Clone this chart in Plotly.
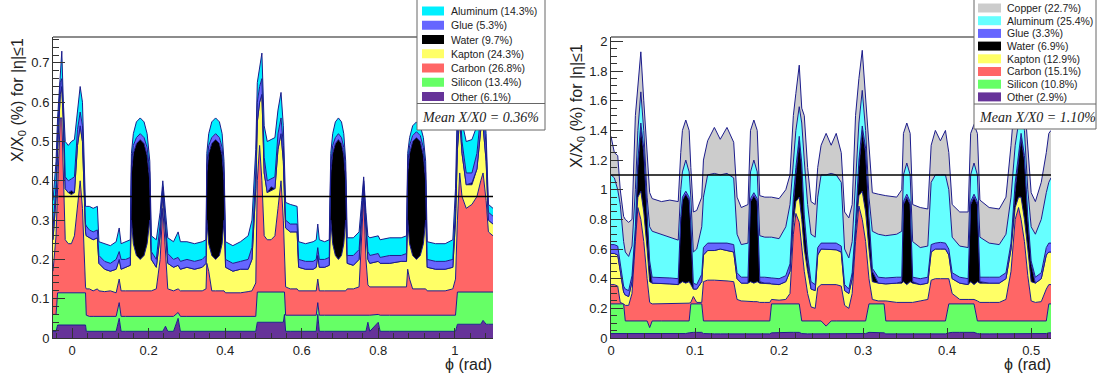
import plotly.graph_objects as go

# ---------------- LEFT PANEL DATA (stacked boundaries, X/X0 in %) ----------------
L_phi = [-0.050,-0.042,-0.038,-0.031,-0.027,-0.023,-0.018,-0.010,-0.002,0.006,
         0.014,0.021,0.027,0.032,0.035,0.037,0.045,0.055,0.066,0.070,
         0.085,0.100,0.115,0.123,0.128,0.140,0.152,0.155,0.160,0.168,
         0.178,0.188,0.196,0.203,0.207,0.220,0.230,0.237,0.244,0.250,
         0.265,0.277,0.283,0.300,0.320,0.340,0.350,0.352,0.357,0.365,
         0.375,0.385,0.392,0.397,0.401,0.420,0.440,0.460,0.470,0.480,
         0.484,0.490,0.496,0.502,0.510,0.520,0.530,0.538,0.546,0.552,
         0.555,0.558,0.570,0.588,0.592,0.610,0.630,0.638,0.642,0.646,
         0.660,0.672,0.676,0.681,0.688,0.696,0.704,0.710,0.715,0.719,
         0.735,0.750,0.757,0.762,0.768,0.773,0.778,0.800,0.805,0.830,
         0.860,0.874,0.877,0.882,0.890,0.900,0.910,0.918,0.924,0.928,
         0.950,0.975,0.995,1.002,1.007,1.013,1.019,1.030,1.045,1.058,
         1.068,1.074,1.082,1.088,1.100]
L_other = [.017,.017,.033,.033,.033,.033,.033,.033,.033,.033,
           .033,.033,.033,.033,.033,.017,.017,.017,.017,.017,
           .017,.017,.017,.050,.017,.017,.017,.017,.017,.017,
           .017,.017,.017,.017,.017,.017,.017,.017,.030,.017,
           .017,.050,.017,.017,.017,.017,.017,.017,.017,.017,
           .017,.017,.017,.017,.017,.017,.017,.017,.017,.017,
           .040,.040,.040,.040,.040,.040,.040,.040,.040,.040,
           .060,.017,.017,.017,.017,.017,.017,.017,.060,.017,
           .017,.017,.017,.017,.017,.017,.017,.017,.017,.017,
           .017,.017,.017,.017,.017,.040,.017,.040,.017,.017,
           .017,.017,.017,.017,.017,.017,.017,.017,.017,.017,
           .017,.017,.017,.017,.035,.035,.035,.035,.035,.035,
           .035,.045,.035,.035,.035]
L_silicon = [.060,.060,.115,.115,.115,.115,.115,.115,.115,.115,
             .115,.115,.115,.115,.115,.058,.055,.055,.055,.055,
             .055,.055,.055,.090,.055,.055,.055,.055,.055,.055,
             .055,.055,.055,.055,.055,.055,.055,.055,.055,.055,
             .055,.065,.055,.055,.055,.055,.055,.055,.055,.055,
             .055,.055,.055,.055,.055,.055,.055,.055,.055,.055,
             .117,.117,.117,.117,.117,.117,.117,.117,.117,.117,
             .117,.058,.058,.058,.058,.058,.058,.058,.090,.058,
             .058,.058,.058,.058,.058,.058,.058,.058,.058,.058,
             .058,.058,.058,.058,.058,.058,.058,.060,.058,.058,
             .058,.058,.058,.058,.058,.058,.058,.058,.058,.058,
             .058,.058,.058,.058,.117,.117,.117,.117,.117,.117,
             .117,.117,.117,.117,.117]
L_carbon = [.170,.260,.380,.560,.560,.420,.250,.240,.240,.260,
            .340,.400,.330,.200,.130,.125,.125,.120,.125,.120,
            .118,.120,.115,.150,.120,.120,.120,.120,.120,.120,
            .120,.120,.120,.120,.120,.125,.200,.330,.200,.125,
            .120,.125,.120,.120,.120,.120,.125,.190,.170,.120,
            .120,.120,.120,.120,.115,.115,.115,.118,.120,.140,
            .400,.490,.400,.260,.250,.250,.260,.330,.400,.300,
            .200,.130,.125,.125,.120,.120,.120,.120,.150,.120,
            .120,.120,.120,.120,.120,.120,.120,.120,.120,.125,
            .125,.130,.250,.360,.200,.135,.130,.130,.130,.130,
            .130,.130,.175,.150,.125,.125,.125,.125,.125,.120,
            .120,.120,.125,.150,.300,.420,.360,.330,.340,.360,
            .400,.420,.350,.270,.260]
L_kapton = [.250,.360,.480,.620,.640,.550,.380,.370,.365,.370,
            .490,.540,.500,.350,.270,.260,.255,.250,.255,.190,
            .175,.170,.175,.200,.175,.180,.185,.300,.240,.210,
            .200,.210,.240,.300,.200,.180,.260,.370,.280,.190,
            .180,.185,.175,.180,.175,.180,.190,.300,.240,.210,
            .200,.210,.240,.300,.180,.170,.175,.175,.200,.380,
            .550,.600,.620,.420,.370,.375,.380,.480,.520,.450,
            .350,.280,.270,.270,.180,.175,.175,.180,.210,.180,
            .180,.185,.300,.240,.210,.200,.210,.240,.300,.190,
            .185,.200,.310,.385,.280,.200,.190,.195,.190,.190,
            .195,.195,.300,.240,.210,.200,.210,.240,.300,.180,
            .175,.175,.180,.300,.480,.560,.470,.390,.390,.430,
            .530,.540,.450,.300,.290]
L_water = [.250,.360,.480,.620,.640,.550,.380,.370,.375,.370,
           .490,.540,.500,.350,.270,.260,.255,.250,.255,.190,
           .175,.170,.175,.200,.175,.180,.185,.420,.470,.495,
           .505,.495,.465,.400,.200,.180,.260,.370,.280,.190,
           .180,.185,.175,.180,.175,.180,.190,.420,.470,.495,
           .505,.495,.465,.400,.180,.170,.175,.175,.200,.380,
           .550,.600,.620,.420,.370,.385,.380,.480,.520,.450,
           .350,.280,.270,.270,.180,.175,.175,.180,.210,.180,
           .180,.185,.420,.470,.495,.505,.495,.465,.400,.190,
           .185,.200,.310,.385,.280,.200,.190,.195,.190,.190,
           .195,.195,.420,.470,.500,.510,.500,.465,.400,.180,
           .175,.175,.180,.300,.480,.560,.470,.390,.395,.430,
           .530,.540,.450,.300,.290]
L_glue = [.280,.390,.520,.650,.660,.580,.410,.400,.405,.410,
          .530,.575,.540,.380,.290,.285,.275,.270,.275,.210,
          .195,.190,.200,.220,.200,.200,.205,.440,.490,.510,
          .520,.510,.485,.420,.220,.200,.290,.385,.300,.215,
          .200,.205,.195,.200,.195,.200,.210,.440,.490,.510,
          .520,.510,.485,.420,.200,.190,.195,.200,.230,.420,
          .600,.640,.660,.460,.400,.405,.410,.520,.560,.490,
          .380,.300,.290,.290,.200,.195,.195,.200,.230,.200,
          .200,.205,.440,.490,.510,.520,.510,.485,.420,.210,
          .210,.225,.330,.400,.300,.220,.210,.215,.205,.210,
          .210,.215,.440,.490,.515,.525,.515,.485,.420,.200,
          .195,.195,.200,.330,.530,.600,.500,.420,.420,.470,
          .570,.580,.490,.320,.310]
L_alu = [.350,.450,.560,.690,.730,.600,.500,.490,.500,.505,
         .580,.640,.600,.420,.335,.335,.335,.330,.335,.245,
         .240,.235,.245,.280,.240,.245,.250,.470,.520,.550,
         .560,.550,.520,.450,.260,.250,.320,.400,.330,.255,
         .245,.270,.245,.245,.240,.245,.250,.470,.520,.550,
         .560,.550,.520,.450,.245,.235,.245,.260,.300,.480,
         .650,.690,.725,.540,.500,.505,.510,.580,.625,.540,
         .420,.345,.340,.335,.245,.240,.245,.250,.290,.250,
         .245,.250,.470,.520,.550,.560,.550,.520,.450,.255,
         .255,.270,.350,.410,.320,.260,.255,.260,.250,.255,
         .255,.260,.470,.510,.540,.550,.540,.510,.450,.245,
         .240,.240,.250,.380,.600,.660,.550,.500,.505,.540,
         .610,.620,.520,.340,.330]
L_mean = 0.36
L_names = ["Aluminum", "Glue", "Water", "Kapton", "Carbon", "Silicon", "Other"]
L_pct = [14.3, 5.3, 9.7, 24.3, 26.8, 13.4, 6.1]

# ---------------- RIGHT PANEL DATA ----------------
R_phi = [0.000,0.004,0.008,0.011,0.015,0.017,0.021,0.025,0.029,0.032,
         0.0355,0.039,0.043,0.046,0.049,0.060,0.070,0.080,0.083,0.085,
         0.089,0.093,0.095,0.098,0.102,0.108,0.110,0.115,0.123,0.130,
         0.138,0.146,0.150,0.155,0.163,0.166,0.170,0.174,0.177,0.183,
         0.189,0.191,0.200,0.208,0.213,0.217,0.220,0.224,0.227,0.230,
         0.234,0.238,0.243,0.246,0.250,0.256,0.262,0.268,0.274,0.278,
         0.283,0.287,0.291,0.295,0.299,0.303,0.307,0.311,0.318,0.325,
         0.327,0.340,0.346,0.348,0.352,0.356,0.359,0.368,0.377,0.381,
         0.386,0.392,0.398,0.402,0.406,0.415,0.425,0.428,0.432,0.436,
         0.439,0.450,0.462,0.470,0.476,0.481,0.485,0.488,0.492,0.496,
         0.500,0.505,0.512,0.518,0.521,0.5236]
R_other = [.030,.030,.030,.030,.030,.028,.028,.028,.028,.028,
           .028,.028,.028,.028,.028,.028,.028,.028,.030,.030,
           .030,.035,.038,.038,.038,.038,.030,.028,.028,.028,
           .028,.028,.028,.028,.028,.028,.028,.028,.028,.028,
           .028,.035,.038,.038,.038,.038,.038,.038,.030,.028,
           .028,.028,.028,.028,.028,.028,.028,.028,.028,.028,
           .028,.028,.028,.028,.028,.030,.038,.038,.038,.035,
           .028,.028,.028,.028,.028,.028,.028,.028,.028,.028,
           .028,.028,.028,.035,.038,.038,.038,.038,.038,.030,
           .028,.028,.028,.028,.028,.028,.028,.028,.028,.028,
           .028,.028,.028,.030,.035,.035]
R_silicon = [.230,.230,.230,.230,.230,.115,.115,.115,.115,.115,
             .115,.115,.115,.070,.115,.115,.115,.115,.115,.115,
             .115,.115,.230,.230,.230,.230,.115,.115,.115,.115,
             .115,.115,.115,.115,.115,.115,.115,.115,.115,.115,
             .115,.230,.230,.230,.230,.230,.230,.230,.115,.115,
             .115,.115,.115,.115,.115,.080,.115,.115,.115,.115,
             .115,.115,.115,.115,.115,.115,.230,.230,.230,.230,
             .115,.115,.115,.115,.115,.115,.115,.115,.115,.115,
             .115,.115,.115,.230,.230,.230,.230,.230,.230,.115,
             .115,.115,.115,.115,.115,.115,.115,.115,.115,.115,
             .115,.115,.115,.115,.230,.230]
R_carbon = [.360,.360,.350,.240,.230,.220,.220,.300,.650,.880,
            .800,.650,.400,.240,.230,.230,.235,.235,.235,.235,
            .235,.235,.240,.280,.240,.240,.380,.390,.390,.390,
            .385,.380,.260,.250,.245,.245,.245,.245,.240,.240,
            .240,.260,.255,.260,.300,.700,.840,.780,.600,.450,
            .300,.210,.200,.340,.360,.360,.360,.360,.350,.220,
            .200,.300,.650,.890,.800,.650,.400,.260,.250,.250,
            .250,.240,.240,.240,.240,.240,.240,.250,.260,.390,
            .400,.400,.400,.400,.300,.260,.260,.260,.260,.250,
            .240,.240,.240,.260,.450,.800,.880,.800,.650,.420,
            .250,.240,.245,.330,.360,.360]
R_kapton = [.570,.570,.560,.450,.310,.290,.280,.380,.700,.950,
            .990,.850,.600,.380,.370,.370,.365,.360,.370,.380,
            .370,.380,.360,.330,.330,.380,.560,.590,.590,.600,
            .590,.580,.400,.370,.370,.380,.370,.380,.370,.370,
            .370,.365,.360,.380,.450,.780,.920,.950,.800,.600,
            .450,.330,.320,.560,.600,.600,.600,.595,.580,.320,
            .300,.400,.720,.960,.990,.850,.600,.380,.370,.365,
            .365,.370,.370,.380,.360,.380,.370,.360,.370,.580,
            .600,.600,.600,.560,.400,.370,.360,.380,.360,.380,
            .370,.370,.370,.400,.600,.880,.950,.950,.800,.600,
            .380,.370,.400,.560,.580,.580]
R_water = [.570,.570,.560,.450,.310,.290,.280,.380,.700,1.150,
           1.420,1.250,.800,.500,.370,.370,.365,.360,.800,.930,
           .970,.930,.750,.330,.330,.380,.560,.590,.590,.600,
           .590,.580,.400,.370,.370,.920,.960,.920,.380,.370,
           .370,.365,.360,.380,.450,.900,1.100,1.330,1.150,.800,
           .520,.330,.320,.560,.600,.600,.600,.595,.580,.320,
           .300,.400,.720,1.150,1.400,1.250,.800,.450,.370,.365,
           .365,.370,.380,.900,.950,.900,.380,.360,.370,.580,
           .600,.600,.600,.560,.400,.370,.360,.900,.950,.900,
           .380,.370,.370,.400,.600,1.000,1.200,1.350,1.200,.800,
           .500,.370,.400,.560,.580,.580]
R_glue = [.630,.630,.620,.500,.350,.330,.320,.420,.750,1.200,
          1.450,1.280,.820,.520,.410,.410,.405,.400,.820,.950,
          .990,.950,.770,.370,.360,.430,.610,.640,.640,.640,
          .640,.630,.440,.410,.410,.940,.980,.940,.410,.410,
          .410,.405,.400,.420,.500,.950,1.150,1.360,1.180,.830,
          .560,.380,.360,.610,.640,.640,.645,.640,.620,.360,
          .330,.440,.770,1.200,1.430,1.280,.820,.470,.410,.405,
          .405,.410,.410,.920,.970,.920,.410,.400,.410,.630,
          .640,.645,.640,.600,.440,.410,.400,.920,.970,.920,
          .410,.410,.410,.440,.640,1.050,1.250,1.380,1.230,.820,
          .520,.410,.440,.610,.640,.640]
R_alu = [1.100,1.080,1.000,.900,.650,.580,.550,.620,1.000,1.400,
         1.660,1.400,.950,.750,.720,.700,.680,.660,1.000,1.120,
         1.200,1.120,.950,.580,.600,.750,.950,1.100,1.110,1.100,
         1.110,1.080,.700,.630,.640,1.120,1.200,1.120,.690,.680,
         .680,.680,.670,.750,.900,1.200,1.400,1.560,1.450,1.200,
         .900,.700,.680,.950,1.100,1.100,1.110,1.100,1.050,.600,
         .540,.650,1.050,1.450,1.670,1.400,.950,.720,.700,.690,
         .690,.700,.720,1.100,1.180,1.100,.650,.610,.620,1.050,
         1.100,1.100,1.100,1.000,.680,.620,.610,1.100,1.180,1.100,
         .680,.640,.630,.700,.950,1.300,1.450,1.600,1.400,1.000,
         .750,.700,.800,.980,1.050,1.080]
R_copper = [1.360,1.250,1.230,1.000,.820,.800,.780,.800,1.500,1.700,
            1.930,1.600,1.250,.980,.940,.920,.930,.920,1.250,1.400,
            1.470,1.400,1.150,.850,.860,.950,1.200,1.330,1.420,1.340,
            1.420,1.320,.950,.880,.900,1.400,1.470,1.400,.960,.950,
            .950,.950,.940,1.000,1.100,1.500,1.650,1.840,1.550,1.500,
            1.150,.920,.900,1.150,1.300,1.380,1.300,1.380,1.250,.850,
            .810,.900,1.500,1.750,1.940,1.600,1.250,.980,.970,.960,
            .960,.950,1.000,1.380,1.450,1.380,.900,.880,.870,1.300,
            1.400,1.330,1.400,1.250,.900,.850,.850,1.380,1.440,1.380,
            .930,.880,.870,.950,1.300,1.650,1.800,1.900,1.600,1.300,
            .980,.920,1.050,1.250,1.380,1.400]
R_mean = 1.10
R_names = ["Copper", "Aluminum", "Glue", "Water", "Kapton", "Carbon", "Silicon", "Other"]
R_pct = [22.7, 25.4, 3.3, 6.9, 12.9, 15.1, 10.8, 2.9]

# ---------------- STYLE ----------------
W, H = 1097, 376
OUTLINE = "#1c1c8c"
COLORS = {"Other": "#663399", "Silicon": "#66ff66", "Carbon": "#ff6666",
          "Kapton": "#ffff66", "Water": "#000000", "Glue": "#6666ff",
          "Copper": "#cccccc"}
L_ALU_COLOR = "#00f0ff"
R_ALU_COLOR = "#66ffff"
FONT = "Liberation Sans, Arial, sans-serif"
LEG_FONT = "Liberation Sans, Arial, sans-serif"


def xp(px):
    return px / W


def yp(py):
    return 1 - py / H


fig = go.Figure()

left_stack = [("Other", L_other), ("Silicon", L_silicon), ("Carbon", L_carbon),
              ("Kapton", L_kapton), ("Water", L_water), ("Glue", L_glue),
              ("Aluminum", L_alu)]
right_stack = [("Other", R_other), ("Silicon", R_silicon), ("Carbon", R_carbon),
               ("Kapton", R_kapton), ("Water", R_water), ("Glue", R_glue),
               ("Aluminum", R_alu), ("Copper", R_copper)]

for i, (name, ys) in enumerate(left_stack):
    col = L_ALU_COLOR if name == "Aluminum" else COLORS[name]
    fig.add_trace(go.Scatter(x=L_phi, y=ys, mode="lines", name=name,
                             line=dict(color=OUTLINE, width=1),
                             fill="tozeroy" if i == 0 else "tonexty",
                             fillcolor=col, xaxis="x", yaxis="y",
                             showlegend=False, hoverinfo="skip"))
fig.add_trace(go.Scatter(x=[L_phi[0], L_phi[-1]], y=[L_mean, L_mean], mode="lines",
                         line=dict(color="black", width=1.5), xaxis="x", yaxis="y",
                         showlegend=False, hoverinfo="skip"))

for i, (name, ys) in enumerate(right_stack):
    col = R_ALU_COLOR if name == "Aluminum" else COLORS[name]
    fig.add_trace(go.Scatter(x=R_phi, y=ys, mode="lines", name=name,
                             line=dict(color=OUTLINE, width=1),
                             fill="tozeroy" if i == 0 else "tonexty",
                             fillcolor=col, xaxis="x2", yaxis="y2",
                             showlegend=False, hoverinfo="skip"))
fig.add_trace(go.Scatter(x=[R_phi[0], R_phi[-1]], y=[R_mean, R_mean], mode="lines",
                         line=dict(color="black", width=1.5), xaxis="x2", yaxis="y2",
                         showlegend=False, hoverinfo="skip"))

axis_common = dict(showgrid=False, zeroline=False, showline=True, linecolor="#333333",
                   linewidth=1, ticks="inside", tickcolor="#333333", automargin=False,
                   tickfont=dict(family=FONT, size=13, color="#222222"))

fig.update_layout(
    width=W, height=H, autosize=False, showlegend=False,
    margin=dict(l=0, r=0, t=0, b=0, pad=0),
    paper_bgcolor="white", plot_bgcolor="white",
    font=dict(family=FONT, color="#222222"),
    xaxis=dict(domain=[xp(53), xp(493)], range=[-0.05, 1.1], anchor="y",
               tick0=0, dtick=0.2, ticklen=10,
               minor=dict(dtick=0.04, ticks="inside", ticklen=5, tickcolor="#333333"),
               **axis_common),
    yaxis=dict(domain=[yp(338), yp(37)], range=[0, 0.766], anchor="x",
               tick0=0, dtick=0.1, ticklen=12,
               minor=dict(dtick=0.02, ticks="inside", ticklen=6, tickcolor="#333333"),
               **axis_common),
    xaxis2=dict(domain=[xp(611), xp(1051)], range=[0, 0.5236], anchor="y2",
                tick0=0, dtick=0.1, ticklen=10,
                minor=dict(dtick=0.02, ticks="inside", ticklen=5, tickcolor="#333333"),
                **axis_common),
    yaxis2=dict(domain=[yp(338), yp(37)], range=[0, 2.03], anchor="x2",
                tick0=0, dtick=0.2, ticklen=12,
                minor=dict(dtick=0.05, ticks="inside", ticklen=6, tickcolor="#333333"),
                **axis_common),
)

shapes = []
annotations = []

# top frame lines
for x0, x1 in [(53, 493), (611, 1051)]:
    shapes.append(dict(type="line", xref="paper", yref="paper", x0=xp(x0), x1=xp(x1),
                       y0=yp(37), y1=yp(37), line=dict(color="#8c8c8c", width=2)))


def add_legend(box, names, pcts, alu_col, row0, drow, sw_x0, sw_x1, txt_x, sep_y, mean_val, mean_x):
    bx0, bx1, by1 = box
    shapes.append(dict(type="rect", xref="paper", yref="paper", x0=xp(bx0), x1=xp(bx1),
                       y0=yp(by1), y1=yp(-3), fillcolor="white",
                       line=dict(color="#666666", width=1), layer="above"))
    shapes.append(dict(type="line", xref="paper", yref="paper", x0=xp(bx0), x1=xp(bx1),
                       y0=yp(sep_y), y1=yp(sep_y), line=dict(color="#666666", width=1)))
    for i, (nm, pc) in enumerate(zip(names, pcts)):
        cy = row0 + i * drow
        col = alu_col if nm == "Aluminum" else COLORS[nm]
        shapes.append(dict(type="rect", xref="paper", yref="paper", x0=xp(sw_x0), x1=xp(sw_x1),
                           y0=yp(cy + 4.5), y1=yp(cy - 4.5), fillcolor=col,
                           line=dict(width=0), layer="above"))
        annotations.append(dict(text=f"{nm} ({pc}%)", xref="paper", yref="paper",
                                x=xp(txt_x), y=yp(cy), xanchor="left", yanchor="middle",
                                showarrow=False,
                                font=dict(family=LEG_FONT, size=10.5, color="#222222")))
    annotations.append(dict(text=f"<i>Mean X/X0 = {mean_val:.2f}%</i>", xref="paper", yref="paper",
                            x=xp(mean_x), y=yp(117), xanchor="center", yanchor="middle",
                            showarrow=False,
                            font=dict(family="Liberation Serif, Times New Roman, serif",
                                      size=14, color="#222222")))


add_legend((417, 545, 130), L_names, L_pct, L_ALU_COLOR, 11, 14.25, 422, 444, 449, 103.5, L_mean, 480)
add_legend((974, 1096, 129), R_names, R_pct, R_ALU_COLOR, 8, 12.7, 978, 1001, 1005, 104, R_mean, 1037)

# axis titles
ytitle = "X/X<sub>0</sub> (%) for |η|≤1"
annotations.append(dict(text=ytitle, xref="paper", yref="paper", x=xp(18), y=yp(100),
                        xanchor="center", yanchor="middle", textangle=-90, showarrow=False,
                        font=dict(family=FONT, size=16, color="#222222")))
annotations.append(dict(text=ytitle, xref="paper", yref="paper", x=xp(577), y=yp(106),
                        xanchor="center", yanchor="middle", textangle=-90, showarrow=False,
                        font=dict(family=FONT, size=16, color="#222222")))
for xr in (494, 1053):
    annotations.append(dict(text="ϕ (rad)", xref="paper", yref="paper", x=xp(xr), y=yp(364),
                            xanchor="right", yanchor="middle", showarrow=False,
                            font=dict(family=FONT, size=16, color="#222222")))

fig.update_layout(shapes=shapes, annotations=annotations)
fig.write_html("out.html", config={"displayModeBar": False})
